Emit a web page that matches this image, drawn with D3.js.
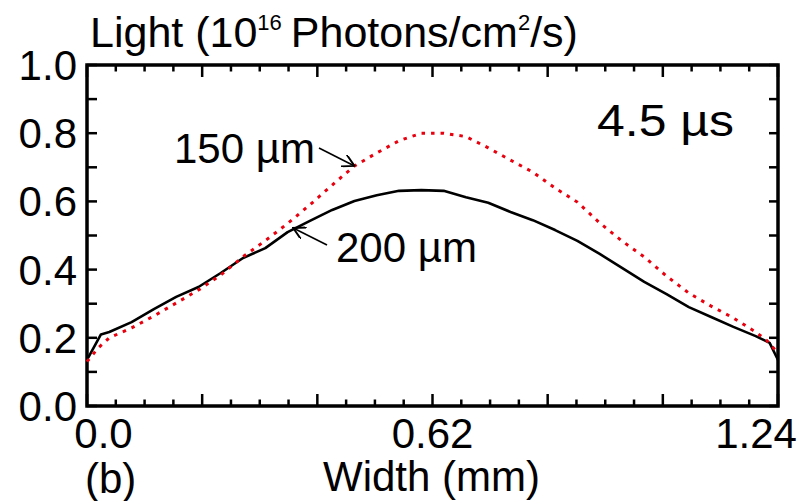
<!DOCTYPE html>
<html>
<head>
<meta charset="utf-8">
<script src="https://cdn.jsdelivr.net/npm/d3@7"></script>
<style>
  html, body { margin: 0; padding: 0; background: #fff; }
  svg { display: block; }
  text { font-family: "Liberation Sans", Arial, sans-serif; fill: #000; }
</style>
</head>
<body>
<svg id="chart" width="805" height="501"></svg>
<script>
// Light intensity profile across the channel width at 4.5 µs
const w200 = [0, 0.025, 0.04, 0.08, 0.12, 0.16, 0.20, 0.24, 0.28, 0.32, 0.36, 0.40, 0.44, 0.48, 0.52, 0.56, 0.60, 0.64, 0.68, 0.72, 0.76, 0.80, 0.84, 0.88, 0.92, 0.96, 1.00, 1.04, 1.08, 1.12, 1.16, 1.20, 1.225, 1.24];
const v200 = [0.135, 0.21, 0.217, 0.246, 0.284, 0.320, 0.349, 0.390, 0.434, 0.463, 0.510, 0.543, 0.575, 0.601, 0.618, 0.631, 0.633, 0.631, 0.612, 0.596, 0.569, 0.545, 0.516, 0.484, 0.446, 0.405, 0.364, 0.328, 0.290, 0.261, 0.232, 0.205, 0.185, 0.135];

const w150 = [0, 0.02, 0.04, 0.08, 0.12, 0.16, 0.20, 0.24, 0.28, 0.32, 0.36, 0.40, 0.44, 0.48, 0.52, 0.56, 0.60, 0.64, 0.68, 0.72, 0.76, 0.80, 0.84, 0.88, 0.92, 0.96, 1.00, 1.04, 1.08, 1.12, 1.16, 1.20, 1.22, 1.24];
const v150 = [0.13, 0.17, 0.20, 0.229, 0.264, 0.302, 0.340, 0.384, 0.438, 0.485, 0.535, 0.590, 0.648, 0.704, 0.742, 0.778, 0.800, 0.800, 0.790, 0.757, 0.721, 0.686, 0.639, 0.598, 0.537, 0.484, 0.437, 0.381, 0.331, 0.293, 0.258, 0.217, 0.192, 0.155];

const yTickLabels = ["0.0", "0.2", "0.4", "0.6", "0.8", "1.0"];
const xTickLabels = ["0.0", "0.62", "1.24"];

const FS = 42;
const svg = d3.select("#chart");

const x = d3.scaleLinear().domain([0, 1.24]).range([87, 778]);
const y = d3.scaleLinear().domain([0, 1.0]).range([406, 65]);

function label(txt, px, py, size, anchor) {
  return svg.append("text")
    .attr("x", px).attr("y", py)
    .attr("text-anchor", anchor || "start")
    .attr("font-size", size)
    .text(txt);
}

// ticks: x every 1.24/24, longer every fourth; y every 0.1, on all four sides
const xt = d3.range(25).map(i => i * 1.24 / 24);
const ticks = svg.append("g").attr("stroke", "#000").attr("stroke-width", 2.5);
xt.forEach((t, i) => {
  const len = (i % 4 === 0) ? 12 : 6.5;
  ticks.append("line").attr("x1", x(t)).attr("x2", x(t)).attr("y1", y(0)).attr("y2", y(0) - len);
  ticks.append("line").attr("x1", x(t)).attr("x2", x(t)).attr("y1", y(1)).attr("y2", y(1) + len);
});
d3.range(11).map(i => i / 10).forEach(t => {
  ticks.append("line").attr("x1", x(0)).attr("x2", x(0) + 10).attr("y1", y(t)).attr("y2", y(t));
  ticks.append("line").attr("x1", x(1.24)).attr("x2", x(1.24) - 9).attr("y1", y(t)).attr("y2", y(t));
});

// frame
svg.append("rect")
  .attr("x", x(0)).attr("y", y(1))
  .attr("width", x(1.24) - x(0)).attr("height", y(0) - y(1))
  .attr("fill", "none").attr("stroke", "#000").attr("stroke-width", 3.5);

// y tick labels
yTickLabels.forEach(s => {
  label(s, x(0) - 10, y(+s) + 15, FS, "end");
});

// x tick labels
label(xTickLabels[0], x(0) + 16.5, 448, FS, "middle");
label(xTickLabels[1], x(0.62), 448, FS, "middle");
label(xTickLabels[2], x(1.24) - 22, 448, FS, "middle");

// axis titles
label("Width (mm)", x(0.62) - 1, 491, FS, "middle");
label("(b)", 85, 493, FS, "start");

const title = svg.append("text")
  .attr("x", 90).attr("y", 47)
  .attr("font-size", 43);
title.append("tspan").text("Light (10");
title.append("tspan").attr("font-size", 22).attr("dy", -17).text("16");
title.append("tspan").attr("dy", 17).attr("dx", 9).text("Photons/cm");
title.append("tspan").attr("font-size", 22).attr("dy", -17).text("2");
title.append("tspan").attr("dy", 17).text("/s)");

label("4.5 \u00b5s", 597, 136, 44, "start")
  .attr("textLength", 137).attr("lengthAdjust", "spacingAndGlyphs");

// curves
const line200 = d3.line().x((d, i) => x(w200[i])).y(d => y(d));
const line150 = d3.line().x((d, i) => x(w150[i])).y(d => y(d));

svg.append("path").datum(v200).attr("d", line200)
  .attr("fill", "none").attr("stroke", "#000").attr("stroke-width", 2.6)
  .attr("stroke-linejoin", "round");

svg.append("path").datum(v150).attr("d", line150)
  .attr("fill", "none").attr("stroke", "#e8000e").attr("stroke-width", 3)
  .attr("stroke-dasharray", "3.5,6");

// annotations with open arrowheads
svg.append("defs").append("marker")
  .attr("id", "arrow").attr("viewBox", "0 0 12 12")
  .attr("refX", 11).attr("refY", 6)
  .attr("markerWidth", 13).attr("markerHeight", 13)
  .attr("markerUnits", "userSpaceOnUse")
  .attr("orient", "auto")
  .append("path").attr("d", "M0,0 L11,6 L0,12")
  .attr("fill", "none").attr("stroke", "#000").attr("stroke-width", 1.8);

label("150 \u00b5m", 174, 163, FS, "start");
svg.append("line")
  .attr("x1", 319).attr("y1", 148)
  .attr("x2", x(0.48)).attr("y2", y(0.704))
  .attr("stroke", "#000").attr("stroke-width", 1.6)
  .attr("marker-end", "url(#arrow)");

label("200 \u00b5m", 336, 262, FS, "start");
svg.append("line")
  .attr("x1", 327).attr("y1", 245)
  .attr("x2", x(0.37)).attr("y2", y(0.522))
  .attr("stroke", "#000").attr("stroke-width", 1.6)
  .attr("marker-end", "url(#arrow)");
</script>
</body>
</html>
